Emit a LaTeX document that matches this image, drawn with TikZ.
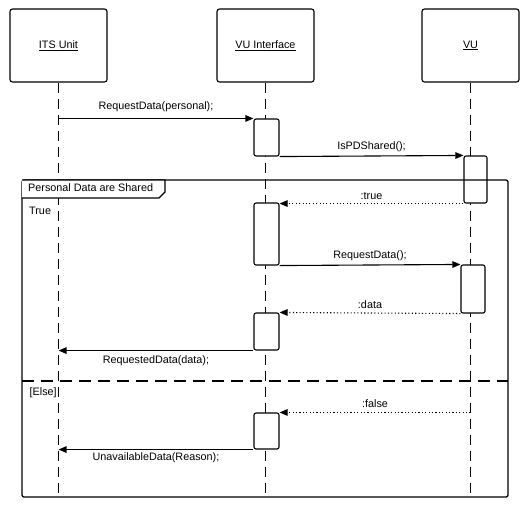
\documentclass[tikz,border=0pt]{standalone}
\usepackage{fontspec}
\setmainfont{Liberation Sans}
\usetikzlibrary{arrows.meta}
\begin{document}
\begin{tikzpicture}[x=1pt,y=-1pt,
  every node/.style={font=\fontsize{10.8}{13}\selectfont},
  actor/.style={draw,line width=1.1pt,rounded corners=2.5pt,minimum width=97pt,minimum height=73pt,fill=white},
  actbox/.style={draw,line width=1.1pt,rounded corners=2pt,fill=white,inner sep=0pt,minimum width=25pt},
  lifeline/.style={line width=0.9pt,dash pattern=on 10pt off 6pt},
  msg/.style={line width=1.1pt,-{Triangle[length=8pt,width=6.5pt]}},
  reply/.style={line width=1.1pt,dash pattern=on 1.1pt off 2.3pt,-{Triangle[length=8pt,width=6.5pt]}},
  lbl/.style={inner sep=0pt}]
\useasboundingbox[fill=white] (0,0) rectangle (530,507);
% actors
\node[actor] (its) at (58.5,45.5) {\underline{ITS Unit}};
\node[actor] (vui) at (265.5,45.5) {\underline{VU Interface}};
\node[actor] (vu)  at (470.5,45.5) {\underline{VU}};
% lifeline ends
\coordinate (itsend) at (58.5,497);
\coordinate (vuiend) at (265.5,497);
\coordinate (vuend)  at (470.5,497);
\draw[lifeline] (its.south) -- (itsend);
\draw[lifeline] (vui.south) -- (vuiend);
\draw[lifeline] (vu.south) -- (vuend);
% activations
\node[actbox,minimum height=37pt] (a1) at (266.5,137.5) {};
\node[actbox,minimum width=23pt,minimum height=47pt] (b1) at (475.5,179.5) {};
\node[actbox,minimum height=62pt] (a2) at (266.5,234) {};
\node[actbox,minimum width=24pt,minimum height=48pt] (b2) at (473,289) {};
\node[actbox,minimum height=37pt] (a3) at (266.5,331.5) {};
\node[actbox,minimum height=36pt] (a4) at (266.5,431) {};
% frame
\node[draw,line width=1.3pt,rounded corners=2pt,minimum width=486pt,minimum height=317pt,inner sep=0pt,outer sep=0pt] (frame) at (265,338.5) {};
\draw[line width=1.3pt,fill=white] (frame.north west) -- ++(143,0) -- ++(0,12) -- ++(-6,6) -- ++(-137,0);
\node[lbl,anchor=west] (fl) at (28,188) {Personal Data are Shared};
\node[lbl,anchor=west] (tr) at (29,211) {True};
\coordinate (sepl) at (22,381);
\coordinate (sepr) at (508,381);
\draw[line width=1.1pt,dash pattern=on 12pt off 7pt] (sepl) -- (sepr);
\node[lbl,anchor=west] (el) at (29.5,393) {[Else]};
% messages
\draw[msg] (its.south |- a1.north west) -- node[above=2.5pt]{RequestData(personal);} (a1.north west);
\draw[msg] (a1.south east) -- node[above=0.5pt]{IsPDShared();} (b1.north west);
\draw[reply] (b1.south west) -- node[above=0.5pt]{:true} (b1.south west -| a2.east);
\draw[msg] (a2.south east) -- node[above=0.5pt]{RequestData();} (b2.north west);
\draw[reply] (b2.south west) -- node[above=0.5pt]{:data} (a3.north east);
\draw[msg] (a3.south west) -- node[below=1.5pt]{RequestedData(data);} (a3.south west -| its.south);
\draw[reply] (a4.north east -| vu.south) -- node[above=1pt]{:false} (a4.north east);
\draw[msg] (a4.south west) -- node[below=-1pt]{UnavailableData(Reason);} (a4.south west -| its.south);
\end{tikzpicture}
\end{document}
